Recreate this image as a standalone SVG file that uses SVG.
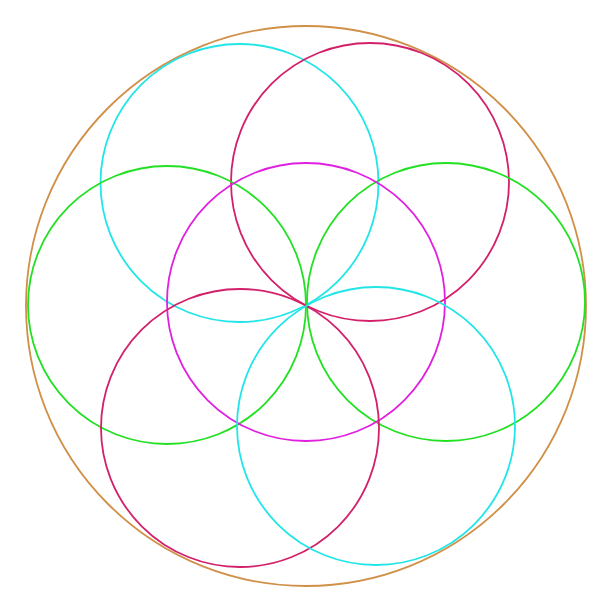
<svg xmlns="http://www.w3.org/2000/svg" width="615" height="612" viewBox="0 0 615 612">
<style>
circle{fill:none;stroke-width:1.8}
.o{stroke:#D09048}
.c{stroke:#22E5E8}
.m{stroke:#E020E0}
.r{stroke:#D2206A}
.g{stroke:#22E022}
</style>
<rect width="615" height="612" fill="#fff"/>
<circle class="o" cx="306" cy="306" r="280"/>
<circle class="c" cx="239.5" cy="183" r="139"/>
<circle class="r" cx="370" cy="182" r="139"/>
<circle class="g" cx="167" cy="305" r="139"/>
<circle class="g" cx="446" cy="302" r="139"/>
<circle class="m" cx="306" cy="302" r="139"/>
<circle class="r" cx="240" cy="428" r="139"/>
<circle class="c" cx="376" cy="426" r="139"/>
</svg>
